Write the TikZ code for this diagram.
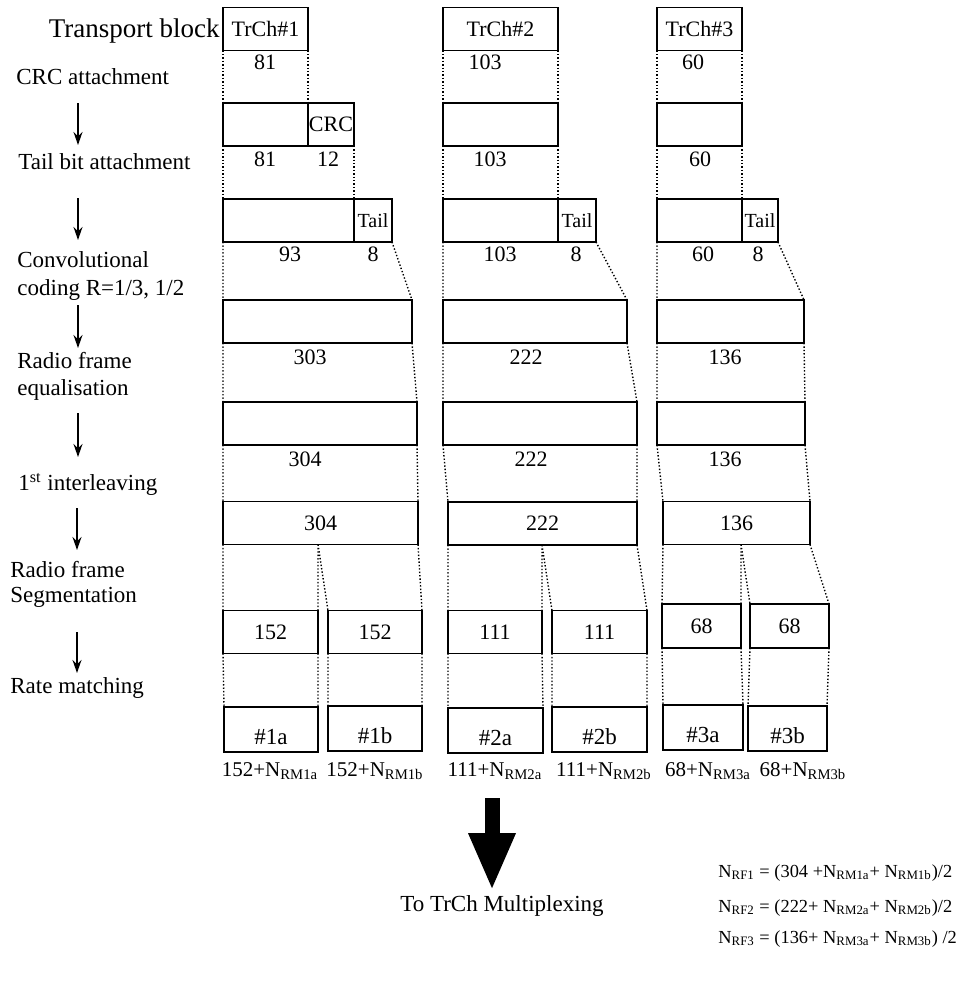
\documentclass[tikz,border=0pt]{standalone}
\usepackage{fontspec}
\setmainfont{Liberation Serif}
\usetikzlibrary{arrows.meta, positioning}

\begin{document}
\begin{tikzpicture}[
  x=0.5pt, y=-0.5pt,
  box/.style={draw, line width=0.9pt, inner sep=0pt, outer sep=0pt,
              minimum height=21.5pt, font=\fontsize{11}{13}\selectfont},
  bw/.style={minimum width=#1*0.5pt},
  hashbox/.style={box, minimum height=22.5pt, text height=15pt, text depth=0pt,
                  font=\fontsize{11.5}{13}\selectfont},
  num/.style={inner sep=0pt, font=\fontsize{11}{13}\selectfont},
  stage/.style={anchor=west, align=left, inner sep=0pt, font=\fontsize{11.5}{14}\selectfont},
  sum/.style={inner sep=0pt, font=\fontsize{10.5}{12}\selectfont},
  eqn/.style={anchor=base west, inner sep=0pt, font=\fontsize{9.2}{11}\selectfont},
  link/.style={densely dotted, line width=0.7pt},
  arr/.style={-{Stealth[length=6.5pt, width=4.5pt]}, line width=0.7pt},
  bigarr/.style={-{Triangle[length=27.5pt, width=24pt, line width=0pt]}, line width=7.5pt}
]
  \useasboundingbox (0,0) rectangle (956,985);

  % processing steps on the left
  \node[anchor=east, inner sep=0pt, font=\fontsize{13.5}{16}\selectfont] (tb) at (220,31) {Transport block};
  \node[stage] (crcstep) at (16,77) {CRC attachment};
  \node[stage] (tailstep) at (18,162) {Tail bit attachment};
  \node[stage] (convstep) at (17,276) {Convolutional\\coding R=1/3, 1/2};
  \node[stage] (eqstep) at (17,376) {Radio frame\\[-0.5pt]equalisation};
  \node[stage] (ilstep) at (18,484.5) {1\textsuperscript{st} interleaving};
  \node[stage] (segstep) at (10,584) {Radio frame\\[-1.5pt]Segmentation};
  \node[stage] (rmstep) at (10,688) {Rate matching};

  \coordinate (up1) at (78,103); \coordinate (dn1) at (78,145);
  \coordinate (up2) at (78,198); \coordinate (dn2) at (78,240);
  \coordinate (up3) at (78,305); \coordinate (dn3) at (78,348);
  \coordinate (up4) at (78,413); \coordinate (dn4) at (78,457);
  \coordinate (up5) at (77,508); \coordinate (dn5) at (77,550);
  \coordinate (up6) at (77,632); \coordinate (dn6) at (77,673);
  \draw[arr] (up1) -- (dn1);
  \draw[arr] (up2) -- (dn2);
  \draw[arr] (up3) -- (dn3);
  \draw[arr] (up4) -- (dn4);
  \draw[arr] (up5) -- (dn5);
  \draw[arr] (up6) -- (dn6);

  % TrCh#1
  \node[box, bw=85] (t1) at (265.5,29) {TrCh\#1};
  \node[num] (n1) at (265,62.5) {81};
  \node[box, bw=85] (c1) at (265.5,124.5) {};
  \node[box, bw=46, right=0pt of c1] (crc1) {CRC};
  \node[num] (n1c) at (265,159.5) {81};
  \node[num] (n1crc) at (328,159.5) {12};
  \node[box, bw=131] (d1) at (288.5,220.5) {};
  \node[box, bw=38, right=0pt of d1, font=\fontsize{10}{12}\selectfont] (tail1) {Tail};
  \node[num] (n1d) at (290,254.5) {93};
  \node[num] (n1tail) at (373,254.5) {8};
  \node[box, bw=189] (e1) at (317.5,321.5) {};
  \node[num] (n1e) at (310,357.5) {303};
  \node[box, bw=194] (f1) at (320,423.5) {};
  \node[num] (n1f) at (305,459) {304};
  \node[box, bw=195] (g1) at (320.5,523) {304};
  \node[box, bw=95] (h1a) at (270.5,632) {152};
  \node[box, bw=94] (h1b) at (375,632) {152};
  \node[hashbox, bw=94] (k1a) at (271,729.5) {\#1a};
  \node[hashbox, bw=94] (k1b) at (375,728.5) {\#1b};
  \node[sum] (s1a) at (270,771) {152+N\textsubscript{RM1a}};
  \node[sum] (s1b) at (375,771) {152+N\textsubscript{RM1b}};

  % TrCh#2
  \node[box, bw=115] (t2) at (500.5,29) {TrCh\#2};
  \node[num] (n2) at (485,62.5) {103};
  \node[box, bw=115] (c2) at (500.5,124.5) {};
  \node[num] (n2c) at (490,159.5) {103};
  \node[box, bw=115] (d2) at (500.5,220.5) {};
  \node[box, bw=38, right=0pt of d2, font=\fontsize{10}{12}\selectfont] (tail2) {Tail};
  \node[num] (n2d) at (500,254.5) {103};
  \node[num] (n2tail) at (576,254.5) {8};
  \node[box, bw=184] (e2) at (535,321.5) {};
  \node[num] (n2e) at (526,357.5) {222};
  \node[box, bw=194] (f2) at (540,423.5) {};
  \node[num] (n2f) at (531,459) {222};
  \node[box, bw=189] (g2) at (542.5,523.5) {222};
  \node[box, bw=94] (h2a) at (495,632) {111};
  \node[box, bw=95] (h2b) at (599.5,632) {111};
  \node[hashbox, bw=95] (k2a) at (495.5,730.5) {\#2a};
  \node[hashbox, bw=95] (k2b) at (599.5,729.5) {\#2b};
  \node[sum] (s2a) at (495,771) {111+N\textsubscript{RM2a}};
  \node[sum] (s2b) at (604,771) {111+N\textsubscript{RM2b}};

  % TrCh#3
  \node[box, bw=85] (t3) at (699.5,29) {TrCh\#3};
  \node[num] (n3) at (693,62.5) {60};
  \node[box, bw=85] (c3) at (699.5,124.5) {};
  \node[num] (n3c) at (700,159.5) {60};
  \node[box, bw=85] (d3) at (699.5,220.5) {};
  \node[box, bw=36, right=0pt of d3, font=\fontsize{10}{12}\selectfont] (tail3) {Tail};
  \node[num] (n3d) at (703,254.5) {60};
  \node[num] (n3tail) at (758,254.5) {8};
  \node[box, bw=147] (e3) at (730.5,321.5) {};
  \node[num] (n3e) at (725,357.5) {136};
  \node[box, bw=148] (f3) at (731,423.5) {};
  \node[num] (n3f) at (725,459) {136};
  \node[box, bw=147] (g3) at (736.5,523) {136};
  \node[box, bw=79, minimum height=22pt] (h3a) at (701.5,626) {68};
  \node[box, bw=79, minimum height=22pt] (h3b) at (789.5,626) {68};
  \node[hashbox, bw=80] (k3a) at (703,727.5) {\#3a};
  \node[hashbox, bw=79] (k3b) at (787.5,728.5) {\#3b};
  \node[sum] (s3a) at (708,771) {68+N\textsubscript{RM3a}};
  \node[sum] (s3b) at (803,771) {68+N\textsubscript{RM3b}};

  % dotted links between the stages
  \draw[link] (t1.south west) -- (c1.north west) (t1.south east) -- (c1.north east);
  \draw[link] (c1.south west) -- (d1.north west) (crc1.south east) -- (d1.north east);
  \draw[link] (d1.south west) -- (e1.north west) (tail1.south east) -- (e1.north east);
  \draw[link] (e1.south west) -- (f1.north west) (e1.south east) -- (f1.north east);
  \draw[link] (f1.south west) -- (g1.north west) (f1.south east) -- (g1.north east);
  \draw[link] (g1.south west) -- (h1a.north west) (h1a.north east |- g1.south) -- (h1a.north east)
              (h1a.north east |- g1.south) -- (h1b.north west) (g1.south east) -- (h1b.north east);
  \draw[link] (h1a.south west) -- (k1a.north west) (h1a.south east) -- (k1a.north east)
              (h1b.south west) -- (k1b.north west) (h1b.south east) -- (k1b.north east);

  \draw[link] (t2.south west) -- (c2.north west) (t2.south east) -- (c2.north east);
  \draw[link] (c2.south west) -- (d2.north west) (c2.south east) -- (d2.north east);
  \draw[link] (d2.south west) -- (e2.north west) (tail2.south east) -- (e2.north east);
  \draw[link] (e2.south west) -- (f2.north west) (e2.south east) -- (f2.north east);
  \draw[link] (f2.south west) -- (g2.north west) (f2.south east) -- (g2.north east);
  \draw[link] (g2.south west) -- (h2a.north west) (h2a.north east |- g2.south) -- (h2a.north east)
              (h2a.north east |- g2.south) -- (h2b.north west) (g2.south east) -- (h2b.north east);
  \draw[link] (h2a.south west) -- (k2a.north west) (h2a.south east) -- (k2a.north east)
              (h2b.south west) -- (k2b.north west) (h2b.south east) -- (k2b.north east);

  \draw[link] (t3.south west) -- (c3.north west) (t3.south east) -- (c3.north east);
  \draw[link] (c3.south west) -- (d3.north west) (c3.south east) -- (d3.north east);
  \draw[link] (d3.south west) -- (e3.north west) (tail3.south east) -- (e3.north east);
  \draw[link] (e3.south west) -- (f3.north west) (e3.south east) -- (f3.north east);
  \draw[link] (f3.south west) -- (g3.north west) (f3.south east) -- (g3.north east);
  \draw[link] (g3.south west) -- (h3a.north west) (h3a.north east |- g3.south) -- (h3a.north east)
              (h3a.north east |- g3.south) -- (h3b.north west) (g3.south east) -- (h3b.north east);
  \draw[link] (h3a.south west) -- (k3a.north west) (h3a.south east) -- (k3a.north east)
              (h3b.south west) -- (k3b.north west) (h3b.south east) -- (k3b.north east);

  % output to multiplexing
  \node[inner sep=0pt, font=\fontsize{11.5}{14}\selectfont] (mux) at (502,906) {To TrCh Multiplexing};
  \coordinate (muxtop) at (492,798);
  \draw[bigarr, shorten >=3.5pt] (muxtop) -- (muxtop |- mux.north);

  \node[eqn] (rf1) at (718,877) {N\textsubscript{RF1} = (304 +N\textsubscript{RM1a}+ N\textsubscript{RM1b})/2};
  \node[eqn] (rf2) at (718,912) {N\textsubscript{RF2} = (222+ N\textsubscript{RM2a}+ N\textsubscript{RM2b})/2};
  \node[eqn] (rf3) at (718,943) {N\textsubscript{RF3} = (136+ N\textsubscript{RM3a}+ N\textsubscript{RM3b}) /2};
\end{tikzpicture}
\end{document}
